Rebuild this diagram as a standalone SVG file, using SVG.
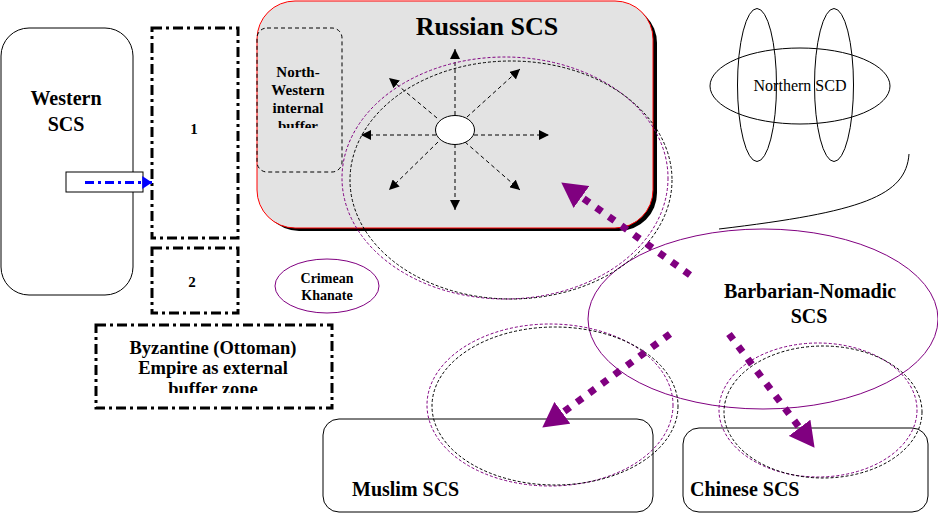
<svg xmlns="http://www.w3.org/2000/svg" width="938" height="514" viewBox="0 0 938 514">
<style>
text{font-family:"Liberation Serif","Times New Roman",serif;fill:#000;text-anchor:middle}
.b{font-weight:bold}
.thin{fill:none;stroke:#000;stroke-width:1}
.dd{fill:#fff;stroke:#000;stroke-width:3;stroke-dasharray:10 4 3 4}
.ray{stroke:#000;stroke-width:1;stroke-dasharray:4 3;fill:none;marker-end:url(#sm)}
.pd{fill:none;stroke:#800080;stroke-width:1;stroke-dasharray:3 2}
.kd{fill:none;stroke:#000;stroke-width:1;stroke-dasharray:3 2}
.pe{fill:none;stroke:#800080;stroke-width:1}
.big{fill:none;stroke:#800080;stroke-width:7;stroke-dasharray:7 8.5;marker-end:url(#pm)}
</style>
<defs>
<marker id="sm" markerUnits="userSpaceOnUse" markerWidth="10" markerHeight="10" viewBox="0 0 9 9" refX="9" refY="4.5" orient="auto"><path d="M0,0 L9,4.5 L0,9 z" fill="#000"/></marker>
<marker id="bm" markerUnits="userSpaceOnUse" markerWidth="10" markerHeight="13" viewBox="0 0 9 12" refX="9" refY="6" orient="auto"><path d="M0,0 L9,6 L0,12 z" fill="#0000ff"/></marker>
<marker id="pm" markerUnits="userSpaceOnUse" markerWidth="25" markerHeight="27" viewBox="0 0 24 26" refX="0" refY="13" orient="auto"><path d="M0,0 L24,13 L0,26 z" fill="#800080"/></marker>
<clipPath id="cNW"><rect x="257" y="28" width="85" height="100"/></clipPath>
<clipPath id="cBZ"><rect x="96" y="325" width="236" height="68"/></clipPath>
</defs>

<g id="western">
<rect x="1" y="28" width="132" height="267" rx="28" ry="28" class="thin" fill="#fff"/>
<text x="66" y="105" class="b" font-size="20">Western</text>
<text x="66" y="131" class="b" font-size="20">SCS</text>
</g>

<g id="zone1">
<rect x="152" y="28" width="86" height="210" class="dd"/>
<text x="194" y="134" class="b" font-size="15">1</text>
</g>

<g id="zone2">
<rect x="152" y="248" width="86" height="65" class="dd"/>
<text x="192" y="287" class="b" font-size="15">2</text>
</g>

<g id="byzantine">
<rect x="96" y="325" width="236" height="83" class="dd"/>
<g clip-path="url(#cBZ)">
<text x="213" y="354" class="b" font-size="18.5">Byzantine (Ottoman)</text>
<text x="213" y="374" class="b" font-size="18.5">Empire as external</text>
<text x="213" y="395" class="b" font-size="18.5">buffer zone</text>
</g>
</g>

<g id="russian">
<rect x="261" y="5" width="396" height="226" rx="38" ry="38" fill="#000"/>
<rect x="257" y="1" width="396" height="227" rx="38" ry="38" fill="#e3e3e3" stroke="#ff0000" stroke-width="1"/>
<text x="487" y="35" class="b" font-size="26">Russian SCS</text>
</g>

<g id="nw-buffer">
<rect x="257" y="28" width="85" height="144" rx="10" ry="10" fill="none" stroke="#000" stroke-width="1" stroke-dasharray="4 3"/>
<g clip-path="url(#cNW)">
<text x="298" y="77" class="b" font-size="15">North-</text>
<text x="298" y="95" class="b" font-size="15">Western</text>
<text x="298" y="113" class="b" font-size="15">internal</text>
<text x="298" y="131" class="b" font-size="15">buffer</text>
</g>
</g>

<g id="rays">
<path class="ray" d="M455,115 L455,49"/>
<path class="ray" d="M455,144 L455,210"/>
<path class="ray" d="M436,135 L361,135"/>
<path class="ray" d="M474,135 L549,135"/>
<path class="ray" d="M437,118 L389,78"/>
<path class="ray" d="M467,117 L520,69"/>
<path class="ray" d="M438,142 L389,190"/>
<path class="ray" d="M465,142 L520,190"/>
</g>

<g id="center">
<ellipse cx="455" cy="130" rx="19.5" ry="14.5" fill="#fff" stroke="#000" stroke-width="1"/>
</g>

<g id="crimean">
<ellipse cx="327" cy="286" rx="52" ry="27" fill="#fff" class="pe"/>
<text x="327" y="283" class="b" font-size="14">Crimean</text>
<text x="327" y="300" class="b" font-size="14">Khanate</text>
</g>

<g id="northern">
<ellipse cx="800" cy="86" rx="90" ry="38" class="thin"/>
<ellipse cx="757" cy="85" rx="19.5" ry="76.5" class="thin"/>
<ellipse cx="834" cy="85" rx="19.5" ry="76.5" class="thin"/>
<text x="800" y="91" font-size="16">Northern SCD</text>
</g>

<g id="muslim">
<rect x="323" y="419" width="330" height="93" rx="16" ry="16" class="thin"/>
<text x="352" y="496" class="b" font-size="20" style="text-anchor:start">Muslim SCS</text>
</g>

<g id="chinese">
<rect x="683" y="428" width="245" height="84" rx="16" ry="16" class="thin"/>
<text x="690" y="496" class="b" font-size="20" style="text-anchor:start">Chinese SCS</text>
</g>

<g id="barbarian">
<ellipse cx="763" cy="319" rx="175" ry="90" class="pe"/>
<text x="810" y="298" class="b" font-size="20">Barbarian-Nomadic</text>
<text x="809" y="323" class="b" font-size="20">SCS</text>
</g>

<g id="spheres">
<ellipse cx="505" cy="178" rx="163" ry="121" class="pd"/>
<ellipse cx="511" cy="180" rx="161" ry="119" class="kd"/>
<ellipse cx="550" cy="405" rx="123" ry="81" class="pd"/>
<ellipse cx="555" cy="406" rx="123" ry="79" class="kd"/>
<ellipse cx="818" cy="410" rx="99" ry="67" class="pd"/>
<ellipse cx="823" cy="412" rx="99" ry="66" class="kd"/>
</g>

<g id="connectors">
<rect x="66" y="172" width="77" height="20" fill="#fff" stroke="#000" stroke-width="1"/>
<path d="M85,182.5 L152,182.5" stroke="#0000ff" stroke-width="3" fill="none" stroke-dasharray="9 4 3 4" marker-end="url(#bm)"/>
<path d="M909,154 C906,196 862,212 719,229" class="thin"/>
<path class="big" d="M690,275 L581.5,197"/>
<path class="big" d="M670,334 L562.4,412.8"/>
<path class="big" d="M729,334 L799.6,427.8"/>
</g>
</svg>
